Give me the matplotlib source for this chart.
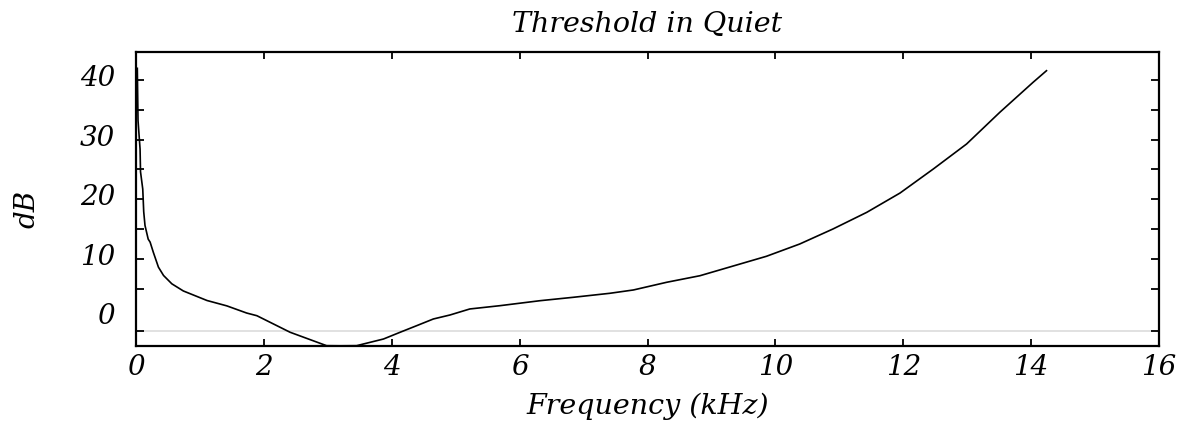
"""
threshold in quiet, frequency vs dB
"""

import matplotlib
matplotlib.use("Agg")
import matplotlib.pyplot as plt
from matplotlib.transforms import ScaledTranslation

# curve (kHz, dB)
freq_khz = [0.02, 0.031, 0.063, 0.07, 0.105, 0.12, 0.14, 0.19, 0.22, 0.27,
            0.35, 0.43, 0.56, 0.74, 1.11, 1.42, 1.73, 1.89, 2.41, 2.98,
            3.19, 3.45, 3.87, 4.13, 4.39, 4.65, 4.91, 5.22, 5.69, 6.32,
            6.84, 7.41, 7.78, 8.30, 8.82, 9.34, 9.86, 10.38, 10.90, 11.43,
            11.95, 12.47, 12.99, 13.51, 14.03, 14.24]
level_db = [41.96, 33.2, 28.4, 24.6, 21.7, 17.9, 15.6, 13.3, 12.8, 11.1,
            8.6, 7.2, 5.8, 4.6, 3.0, 2.1, 0.9, 0.45, -2.33, -4.58,
            -4.6, -4.58, -3.46, -2.33, -1.22, -0.1, 0.57, 1.58, 2.13, 2.97,
            3.54, 4.21, 4.77, 6.06, 7.16, 8.79, 10.42, 12.48, 15.0, 17.8,
            21.04, 25.07, 29.26, 34.58, 39.61, 41.56]

x_ticks = [0, 2, 4, 6, 8, 10, 12, 14, 16]
y_ticks = [0, 10, 20, 30, 40]
y_marks = [-2.2, 5, 10, 15, 20, 25, 30, 35, 40]
axis_line_db = -2.2

plt.rcParams['font.family'] = ['DejaVu Serif']
plt.rcParams['font.style'] = 'italic'

fig = plt.figure(figsize=(11.84, 4.27), dpi=100)
ax = fig.add_axes([0.1149, 0.1867, 0.864, 0.6885])

ax.axhline(axis_line_db, color='#dcdcdc', lw=1.2, zorder=1)
ax.plot(freq_khz, level_db, color='black', lw=1.2, zorder=2)

ax.set_xlim(0, 16)
ax.set_ylim(-4.68, 44.65)

ax.set_xticks(x_ticks)
ax.set_xticklabels([str(v) for v in x_ticks])
ax.tick_params(axis='x', direction='in', length=5, width=1.3, top=True,
               labelsize=20, pad=5)

# labels on majors, marks on minors (Mathematica-like misaligned frame)
ax.set_yticks(y_ticks)
ax.set_yticklabels([str(v) for v in y_ticks])
ax.set_yticks(y_marks, minor=True)
ax.yaxis.remove_overlapping_locs = False
ax.tick_params(axis='y', which='major', length=0, labelsize=20, pad=15)
ax.tick_params(axis='y', which='minor', direction='in', length=6, width=1.3,
               right=True)

offset = ScaledTranslation(0, 4 / 72, fig.dpi_scale_trans)
for tick in ax.yaxis.get_major_ticks():
    tick.label1.set_transform(tick.label1.get_transform() + offset)

for sp in ax.spines.values():
    sp.set_linewidth(1.6)

ax.set_title('Threshold in Quiet', fontsize=20.5, pad=15)
ax.set_xlabel('Frequency (kHz)', fontsize=20.5)
ax.xaxis.set_label_coords(0.5, -0.155)
ax.set_ylabel('dB', fontsize=20)
ax.yaxis.set_label_coords(-0.093, 0.47)

fig.savefig('out.png', dpi=100)
